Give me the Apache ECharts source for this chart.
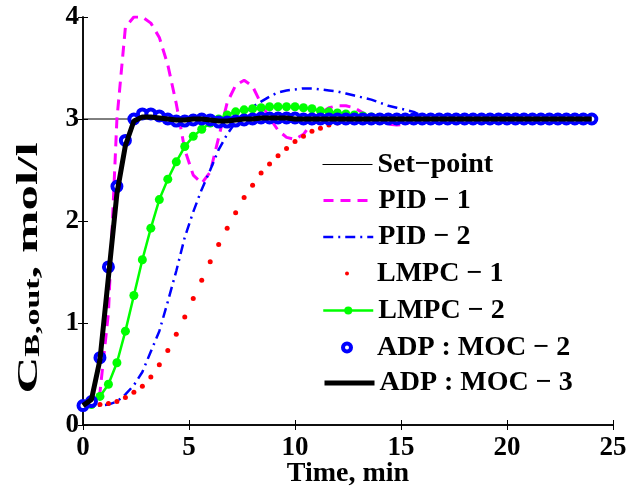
<!DOCTYPE html>
<html>
<head>
<meta charset="utf-8">
<script src="https://cdn.jsdelivr.net/npm/echarts@6/dist/echarts.min.js"></script>
<style>
html,body{margin:0;padding:0;background:#fff;}
#chart{width:638px;height:490px;}
</style>
</head>
<body>
<div id="chart"></div>
<script>
// ---- data ----
const time = [0,0.4,0.8,1.2,1.6,2.0,2.4,2.8,3.2,3.6,
  4.0,4.4,4.8,5.2,5.6,6.0,6.4,6.8,7.2,7.6,
  8.0,8.4,8.8,9.2,9.6,10.0,10.4,10.8,11.2,11.6,
  12.0,12.4,12.8,13.2,13.6,14.0,14.4,14.8,15.2,15.6,
  16.0,16.4,16.8,17.2,17.6,18.0,18.4,18.8,19.2,19.6,
  20.0,20.4,20.8,21.2,21.6,22.0,22.4,22.8,23.2,23.6,24.0];

const setpointTime = [0, 24];
const setpointValue = [3, 3];

const pid1 = [0.19,0.20,0.32,1.10,3.00,3.90,4.00,4.00,3.94,3.80,
  3.53,3.15,2.70,2.45,2.37,2.48,2.82,3.16,3.33,3.38,
  3.32,3.15,3.01,2.89,2.82,2.80,2.85,2.96,3.06,3.11,
  3.13,3.13,3.11,3.06,3.01,2.97,2.95,2.94,2.95,2.98,
  3.00,3.01,3.02,3.02,3.01,3.00,3.00,3.00,3.00,3.00,
  3.00,3.00,3.00,3.00,3.00,3.00,3.00,3.00,3.00,3.00,3.00];

const pid2 = [0.19,0.19,0.19,0.20,0.23,0.30,0.39,0.52,0.72,0.92,
  1.21,1.51,1.84,2.09,2.31,2.50,2.70,2.85,2.97,3.06,
  3.12,3.17,3.22,3.26,3.28,3.29,3.30,3.30,3.29,3.28,
  3.27,3.25,3.23,3.21,3.19,3.16,3.13,3.11,3.09,3.07,
  3.03,3.01,3.00,3.00,3.00,3.00,3.00,3.00,3.00,3.00,
  3.00,3.00,3.00,3.00,3.00,3.00,3.00,3.00,3.00,3.00,3.00];

const lmpc1 = [0.19,0.19,0.20,0.21,0.23,0.27,0.32,0.38,0.47,0.59,
  0.73,0.89,1.06,1.24,1.42,1.60,1.77,1.93,2.08,2.23,
  2.35,2.47,2.56,2.64,2.71,2.78,2.83,2.88,2.91,2.94,
  2.96,2.98,2.99,3.00,3.00,3.00,3.00,3.00,3.00,3.00,
  3.00,3.00,3.00,3.00,3.00,3.00,3.00,3.00,3.00,3.00,
  3.00,3.00,3.00,3.00,3.00,3.00,3.00,3.00,3.00,3.00,3.00];

const lmpc2 = [0.19,0.20,0.28,0.40,0.61,0.92,1.27,1.62,1.93,2.21,
  2.41,2.58,2.73,2.83,2.90,2.96,3.00,3.04,3.07,3.09,
  3.10,3.11,3.12,3.12,3.12,3.12,3.11,3.10,3.08,3.07,
  3.06,3.05,3.04,3.03,3.02,3.01,3.01,3.00,3.00,3.00,
  3.00,3.00,3.00,3.00,3.00,3.00,3.00,3.00,3.00,3.00,
  3.00,3.00,3.00,3.00,3.00,3.00,3.00,3.00,3.00,3.00,3.00];

const moc2 = [0.19,0.23,0.66,1.55,2.34,2.79,3.00,3.05,3.05,3.03,
  3.00,2.98,2.98,2.99,3.00,2.99,2.97,2.97,2.98,2.99,
  3.00,3.01,3.01,3.01,3.01,3.01,3.00,3.00,3.00,3.00,
  3.00,3.00,3.00,3.00,3.00,3.00,3.00,3.00,3.00,3.00,
  3.00,3.00,3.00,3.00,3.00,3.00,3.00,3.00,3.00,3.00,
  3.00,3.00,3.00,3.00,3.00,3.00,3.00,3.00,3.00,3.00,3.00];

const moc3 = [0.19,0.25,0.64,1.45,2.27,2.74,2.98,3.02,3.02,3.01,
  3.00,2.99,2.99,3.00,3.00,2.99,2.98,2.98,2.99,3.00,
  3.00,3.01,3.01,3.01,3.01,3.00,3.00,3.00,3.00,3.00,
  3.00,3.00,3.00,3.00,3.00,3.00,3.00,3.00,3.00,3.00,
  3.00,3.00,3.00,3.00,3.00,3.00,3.00,3.00,3.00,3.00,
  3.00,3.00,3.00,3.00,3.00,3.00,3.00,3.00,3.00,3.00,3.00];

const seriesNames = ['Set−point','PID − 1','PID − 2','LMPC − 1','LMPC − 2','ADP : MOC − 2','ADP : MOC − 3'];
const xTicks = [0, 25, 5];   // min, max, interval
const yTicks = [0, 4, 1];
const xTitle = 'Time, min';
const yTitleParts = ['C', 'B,out', ', mol/l'];

// ---- chart ----
const FONT = '"Liberation Serif", "Times New Roman", serif';
const chart = echarts.init(document.getElementById('chart'), null, {renderer: 'canvas'});

function pairs(xs, ys) { return xs.map((x, i) => [x, ys[i]]); }

const axisLineStyle = {color: '#000', width: 1.5};
const tickStyle = {show: true, inside: true, length: 5, lineStyle: {color: '#000', width: 1}};
const labelStyle = {fontFamily: FONT, fontWeight: 'bold', fontSize: 27, color: '#000'};

const hidden = {opacity: 0};
const legendRows = [
  {name: seriesNames[0], top: 149.5, ih: 14, lineStyle: {color: '#000', width: 1, type: 'solid'}, itemStyle: hidden},
  {name: seriesNames[1], top: 185.5, ih: 14, lineStyle: {color: '#ff00ff', width: 3, type: [10, 7]}, itemStyle: hidden},
  {name: seriesNames[2], top: 222, ih: 14, lineStyle: {color: '#0000ff', width: 2.5, type: [10, 5, 2, 5]}, itemStyle: hidden},
  {name: seriesNames[3], top: 258.5, ih: 5, lineStyle: {color: '#ff0000', width: 0}, itemStyle: {color: '#ff0000', borderWidth: 0, opacity: 1}},
  {name: seriesNames[4], top: 295.5, ih: 10, lineStyle: {color: '#00ff00', width: 2.5, type: 'solid'}, itemStyle: {color: '#00ff00', borderWidth: 0, opacity: 1}},
  {name: seriesNames[5], top: 332.5, ih: 10, lineStyle: {color: '#0000ff', width: 0}, itemStyle: {color: '#ffffff', borderColor: '#0000ff', borderWidth: 4, opacity: 1}},
  {name: seriesNames[6], top: 368, ih: 14, lineStyle: {color: '#000', width: 5, type: 'solid'}, itemStyle: hidden}
];

const legends = legendRows.map(r => ({
  data: [{name: r.name}],
  left: 322,
  top: r.top,
  orient: 'vertical',
  padding: 0,
  itemWidth: 50,
  itemHeight: r.ih,
  selectedMode: false,
  lineStyle: r.lineStyle,
  itemStyle: r.itemStyle,
  textStyle: {fontFamily: FONT, fontWeight: 'bold', fontSize: 28, color: '#000', lineHeight: 30}
}));

const option = {
  animation: false,
  backgroundColor: '#fff',
  grid: {left: 83, right: 25, top: 17, bottom: 65, containLabel: false, outerBoundsMode: 'none'},
  legend: legends,
  graphic: [{
    type: 'text',
    x: 29, y: 268,
    rotation: Math.PI / 2,
    scaleX: 1.7,
    silent: true,
    style: {
      text: '{c|' + yTitleParts[0] + '}{s|' + yTitleParts[1] + '}{c|' + yTitleParts[2] + '}',
      align: 'center', verticalAlign: 'middle',
      fill: '#000',
      font: 'bold 30px ' + FONT,
      rich: {
        c: {fontFamily: FONT, fontWeight: 'bold', fontSize: 30, fill: '#000', lineHeight: 30},
        s: {fontFamily: FONT, fontWeight: 'bold', fontSize: 20, fill: '#000', lineHeight: 20, verticalAlign: 'bottom', padding: [16, 0, 0, 0]}
      }
    }
  }],
  xAxis: [
    {
      type: 'value', min: xTicks[0], max: xTicks[1], interval: xTicks[2], position: 'bottom',
      axisLine: {show: true, lineStyle: axisLineStyle},
      axisTick: tickStyle,
      axisLabel: Object.assign({margin: 10}, labelStyle),
      splitLine: {show: false},
      name: xTitle, nameLocation: 'middle', nameGap: 35, nameMoveOverlap: false,
      nameTextStyle: {fontFamily: FONT, fontWeight: 'bold', fontSize: 28, color: '#000'}
    },
    {
      type: 'value', min: xTicks[0], max: xTicks[1], interval: xTicks[2], position: 'top',
      axisLine: {show: true, lineStyle: axisLineStyle},
      axisTick: tickStyle,
      axisLabel: {show: false},
      splitLine: {show: false}
    }
  ],
  yAxis: [
    {
      type: 'value', min: yTicks[0], max: yTicks[1], interval: yTicks[2], position: 'left',
      axisLine: {show: true, lineStyle: axisLineStyle},
      axisTick: tickStyle,
      axisLabel: Object.assign({margin: 4}, labelStyle),
      splitLine: {show: false}
    },
    {
      type: 'value', min: yTicks[0], max: yTicks[1], interval: yTicks[2], position: 'right',
      axisLine: {show: true, lineStyle: axisLineStyle},
      axisTick: tickStyle,
      axisLabel: {show: false},
      splitLine: {show: false}
    }
  ],
  series: [
    {
      name: seriesNames[0], type: 'line', data: pairs(setpointTime, setpointValue),
      symbol: 'none', color: '#000', lineStyle: {color: '#000', width: 1}, silent: true, z: 2
    },
    {
      name: seriesNames[1], type: 'line', data: pairs(time, pid1),
      symbol: 'none', color: '#ff00ff', lineStyle: {color: '#ff00ff', width: 3, type: [11, 7]}, silent: true, z: 2
    },
    {
      name: seriesNames[2], type: 'line', data: pairs(time, pid2),
      symbol: 'none', color: '#0000ff', lineStyle: {color: '#0000ff', width: 2.5, type: [10, 5, 2, 5]}, silent: true, z: 2
    },
    {
      name: seriesNames[3], type: 'line', data: pairs(time, lmpc1),
      symbol: 'circle', symbolSize: 5, showSymbol: true, color: '#ff0000',
      itemStyle: {color: '#ff0000', borderWidth: 0},
      lineStyle: {width: 0, opacity: 0}, clip: false, silent: true, z: 2
    },
    {
      name: seriesNames[4], type: 'line', data: pairs(time, lmpc2),
      symbol: 'circle', symbolSize: 9, showSymbol: true, color: '#00ff00',
      itemStyle: {color: '#00ff00', borderWidth: 0},
      lineStyle: {color: '#00ff00', width: 2.5}, clip: false, silent: true, z: 2
    },
    {
      name: seriesNames[5], type: 'line', data: pairs(time, moc2),
      symbol: 'circle', symbolSize: 9, showSymbol: true, color: '#0000ff',
      itemStyle: {color: '#ffffff', borderColor: '#0000ff', borderWidth: 4},
      lineStyle: {width: 0, opacity: 0}, clip: false, silent: true, z: 3
    },
    {
      name: seriesNames[6], type: 'line', data: pairs(time, moc3),
      symbol: 'none', color: '#000', lineStyle: {color: '#000', width: 5}, clip: false, silent: true, z: 4
    }
  ]
};
chart.setOption(option);
</script>
</body>
</html>
